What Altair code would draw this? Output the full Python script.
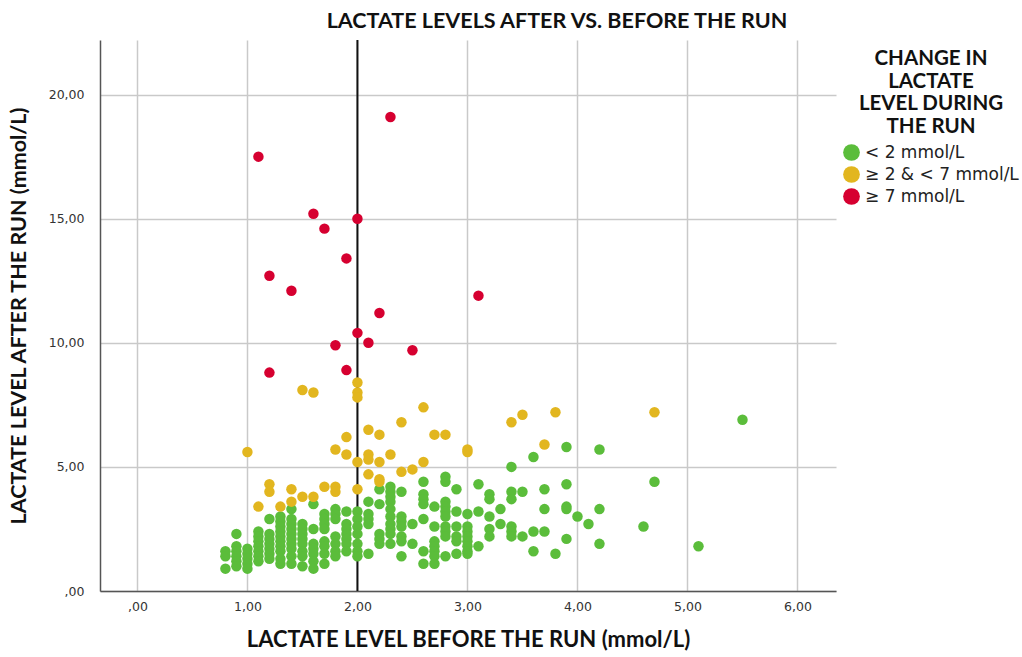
import altair as alt
import pandas as pd

# Lactate before the run (mmol/L) -> lactate after the run, grouped by the rise during the run.
# Green group: listed as columns of equal "before" value.
green_before = [0.8, 0.9, 1.0, 1.1, 1.2, 1.3, 1.4, 1.5, 1.6, 1.7, 1.8, 1.9, 2.0, 2.1, 2.2,
                2.3, 2.4, 2.5, 2.6, 2.7, 2.8, 2.9, 3.0, 3.1, 3.2, 3.3, 3.4, 3.5, 3.6, 3.7,
                3.8, 3.9, 4.0, 4.1, 4.2, 4.6, 4.7, 5.1, 5.5]
green_after = [
    [1.6, 1.4, 0.9],
    [2.3, 1.8, 1.6, 1.4, 1.2, 1.0],
    [1.7, 1.5, 1.3, 1.1, 0.9],
    [2.4, 2.2, 2.0, 1.8, 1.6, 1.4, 1.2],
    [2.9, 2.3, 2.1, 1.9, 1.7, 1.5, 1.3],
    [3.0, 2.8, 2.6, 2.4, 2.2, 2.0, 1.8, 1.6, 1.3, 1.1],
    [3.3, 2.9, 2.7, 2.5, 2.3, 2.1, 1.9, 1.7, 1.4, 1.1],
    [2.7, 2.5, 2.3, 2.1, 1.9, 1.6, 1.4, 1.0],
    [3.5, 2.5, 1.9, 1.7, 1.5, 1.2, 0.9],
    [3.1, 2.9, 2.7, 2.5, 2.0, 1.8, 1.5, 1.1],
    [3.3, 3.1, 2.9, 2.2, 1.9, 1.6, 1.4],
    [3.2, 2.7, 2.5, 2.3, 2.1, 1.9, 1.6],
    [3.2, 2.9, 2.6, 2.3, 1.9, 1.6, 1.4],
    [3.6, 3.1, 2.9, 2.7, 1.5],
    [4.1, 3.5, 2.3, 2.1, 1.9],
    [4.2, 4.0, 3.8, 3.6, 3.3, 3.0, 2.7, 2.5, 2.3, 1.9],
    [4.0, 3.0, 2.8, 2.6, 2.2, 2.0, 1.4],
    [2.7, 1.9],
    [4.4, 3.9, 3.7, 3.5, 2.9, 1.6, 1.1],
    [3.4, 2.6, 2.0, 1.8, 1.6, 1.4, 1.1],
    [4.6, 4.4, 3.6, 3.4, 3.2, 3.0, 2.6, 2.4, 2.2, 1.4],
    [4.1, 3.2, 2.6, 2.2, 2.0, 1.5],
    [3.1, 2.6, 2.4, 2.2, 2.0, 1.8, 1.6, 1.5],
    [4.3, 3.2, 1.8],
    [3.9, 3.7, 3.0, 2.5, 2.2],
    [3.3, 2.7],
    [5.0, 4.0, 3.7, 2.6, 2.4, 2.2],
    [4.0, 2.2],
    [5.4, 2.4, 1.6],
    [4.1, 3.3, 2.4],
    [1.5],
    [5.8, 4.3, 3.4, 3.3, 2.1],
    [3.0],
    [2.7],
    [5.7, 3.3, 1.9],
    [2.6],
    [4.4],
    [1.8],
    [6.9],
]

yellow_before = [1.0, 1.1, 1.2, 1.2, 1.3, 1.4, 1.4, 1.5, 1.5, 1.6, 1.6, 1.7, 1.8, 1.8, 1.8,
                 1.9, 1.9, 2.0, 2.0, 2.0, 2.0, 2.0, 2.1, 2.1, 2.1, 2.1, 2.2, 2.2, 2.2, 2.2,
                 2.3, 2.4, 2.4, 2.5, 2.6, 2.6, 2.7, 2.8, 3.0, 3.0, 3.4, 3.5, 3.7, 3.8, 4.7]
yellow_after = [5.6, 3.4, 4.3, 4.0, 3.4, 4.1, 3.6, 8.1, 3.8, 8.0, 3.8, 4.2, 5.7, 4.2, 4.0,
                6.2, 5.5, 8.4, 8.0, 7.8, 5.2, 4.1, 6.5, 5.5, 5.3, 4.7, 6.3, 5.2, 4.5, 4.4,
                5.5, 6.8, 4.8, 4.9, 7.4, 5.2, 6.3, 6.3, 5.7, 5.6, 6.8, 7.1, 5.9, 7.2, 7.2]

red_before = [1.1, 1.2, 1.2, 1.4, 1.6, 1.7, 1.8, 1.9, 1.9, 2.0, 2.0, 2.1, 2.2, 2.3, 2.5, 3.1]
red_after = [17.5, 12.7, 8.8, 12.1, 15.2, 14.6, 9.9, 13.4, 8.9, 15.0, 10.4, 10.0, 11.2, 19.1, 9.7, 11.9]

groups = ["< 2 mmol/L", "≥ 2 & < 7 mmol/L", "≥ 7 mmol/L"]
colors = ["#5bbd3b", "#e2b61f", "#d60030"]

x_ticks = [0, 1, 2, 3, 4, 5, 6]
y_ticks = [0, 5, 10, 15, 20]
cutoff_before = [2.0]

rows = []
for b, col in zip(green_before, green_after):
    for a in col:
        rows.append({"before": b, "after": a, "group": groups[0]})
for b, a in zip(yellow_before, yellow_after):
    rows.append({"before": b, "after": a, "group": groups[1]})
for b, a in zip(red_before, red_after):
    rows.append({"before": b, "after": a, "group": groups[2]})
df = pd.DataFrame(rows)

comma_fmt = "datum.value == 0 ? ',00' : replace(format(datum.value, '.2f'), '.', ',')"

x_enc = alt.X(
    "before:Q",
    scale=alt.Scale(domain=[-0.34, 6.35], nice=False, zero=False),
    axis=alt.Axis(
        values=x_ticks, labelExpr=comma_fmt, ticks=False,
        grid=True, gridColor="#c9c9c9", gridWidth=1.5,
        domainColor="#555555", domainWidth=1.5,
        labelFont="DejaVu Sans", labelFontSize=12.5, labelColor="#333333", labelPadding=9,
        title="LACTATE LEVEL BEFORE THE RUN (mmol/L)",
        titleFont="Lato", titleFontSize=22, titleFontWeight="bold", titleColor="#111111",
        titlePadding=17,
    ),
)
y_enc = alt.Y(
    "after:Q",
    scale=alt.Scale(domain=[0, 22.2], nice=False),
    axis=alt.Axis(
        values=y_ticks, labelExpr=comma_fmt, ticks=False,
        grid=True, gridColor="#c9c9c9", gridWidth=1.5,
        domainColor="#555555", domainWidth=1.5,
        labelFont="DejaVu Sans", labelFontSize=12.5, labelColor="#333333", labelPadding=16,
        title="LACTATE LEVEL AFTER THE RUN (mmol/L)",
        titleFont="Lato", titleFontSize=21.5, titleFontWeight="bold", titleColor="#111111",
        titlePadding=18,
    ),
)

points = alt.Chart(df).mark_circle(size=110, opacity=1).encode(
    x=x_enc,
    y=y_enc,
    color=alt.Color(
        "group:N",
        scale=alt.Scale(domain=groups, range=colors),
        legend=alt.Legend(
            title=["CHANGE IN", "LACTATE", "LEVEL DURING", "THE RUN"],
            orient="none", legendX=743, legendY=9,
            titleFont="Lato", titleFontSize=20.5, titleFontWeight="bold", titleColor="#111111",
            titleAlign="center", titleAnchor="middle", titleLineHeight=22.5, titlePadding=7,
            symbolType="circle", symbolSize=280, symbolOpacity=1, symbolStrokeWidth=0,
            labelFont="DejaVu Sans", labelFontSize=17, labelColor="#222222", labelOffset=5,
            rowPadding=4, padding=0,
        ),
    ),
)

cutoff = alt.Chart(pd.DataFrame({"before": cutoff_before})).mark_rule(
    color="#111111", strokeWidth=2
).encode(x="before:Q")

chart = alt.layer(cutoff, points).properties(
    width=736,
    height=551,
    title=alt.Title(
        "LACTATE LEVELS AFTER VS. BEFORE THE RUN",
        font="Lato", fontSize=21.5, fontWeight="bold", color="#111111",
        anchor="middle", dx=89, offset=7,
    ),
    autosize=alt.AutoSizeParams(type="none"),
    padding={"left": 100, "top": 40, "right": 186, "bottom": 66},
).configure_view(stroke=None)

chart.save("out.html", embed_options={"renderer": "svg", "actions": False})
